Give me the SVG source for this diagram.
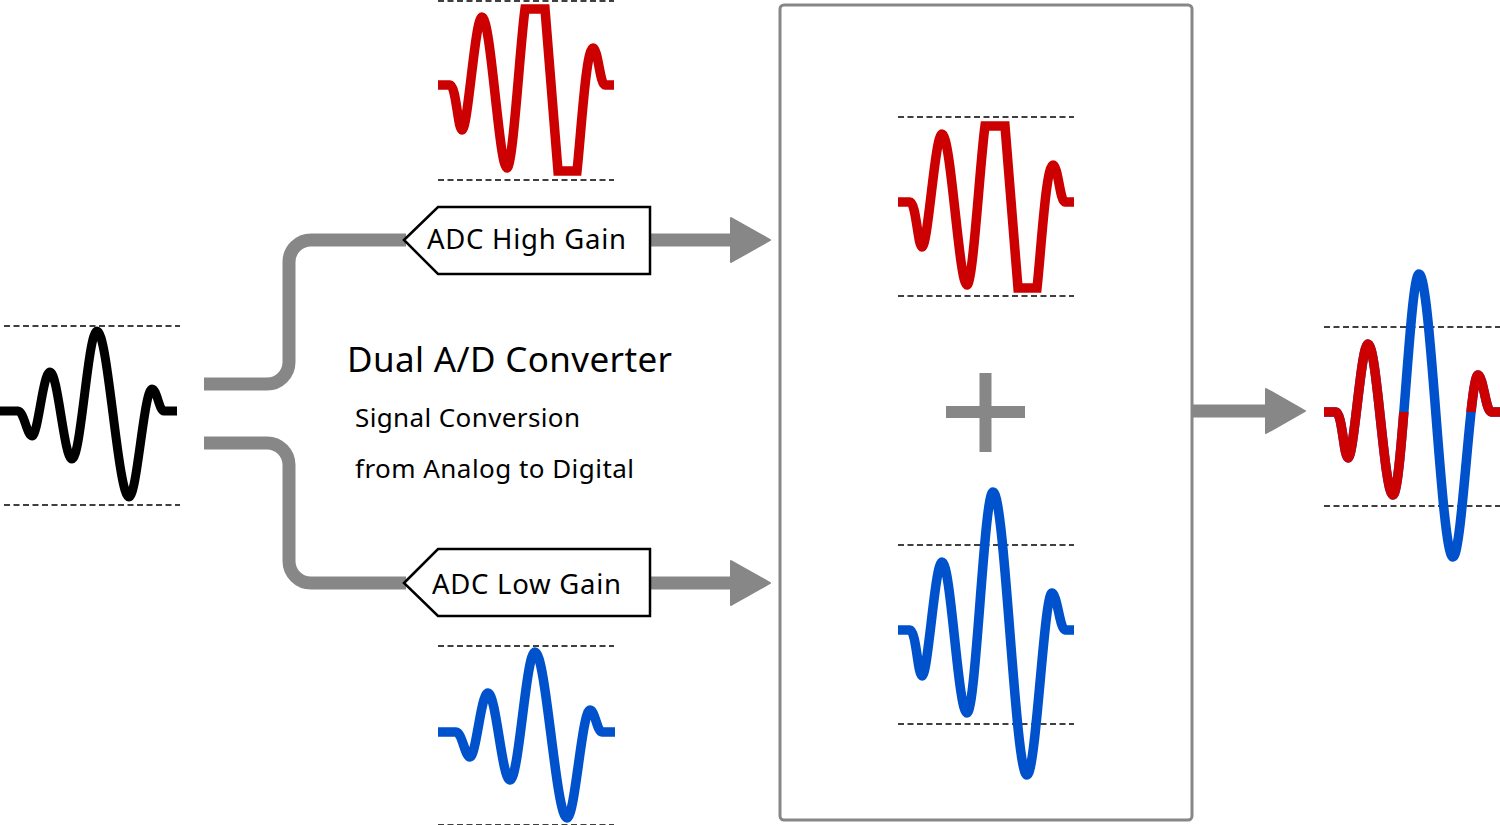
<svg xmlns="http://www.w3.org/2000/svg" width="1500" height="825" viewBox="0 0 1500 825">
<style>
.wave{fill:none;stroke-linejoin:miter;stroke-linecap:butt}
.dash{stroke:#000;stroke-width:1.5;stroke-dasharray:6 3.5;fill:none}
.conn{fill:none;stroke:#878787;stroke-width:13}
.head{fill:#878787;stroke:#878787;stroke-width:2;stroke-linejoin:round}
.lbl{fill:#fff;stroke:#000;stroke-width:2.5}
.t{font-family:"Noto Sans","Open Sans","Liberation Sans",sans-serif;fill:#000}
</style>
<defs>
<path id="wSmall" d="M0,0 H18 C24,0 27,25 32,25 C38,25 43,-39 50,-39 C58,-39 64,48 72,48 C81,48 88,-80 97,-80 C108,-80 118,86 129,86 C137,86 144,-22 152,-22 C157,-22 159,0 164,0 H177"/>
<path id="wBig" d="M0,0 H12 C18,0 20,46 24,46 C30,46 37,-68 44,-68 C53,-68 60,83 69,83 C78,83 86,-138 95,-138 C107,-138 117,145 129,145 C138,145 146,-37 154,-37 C159,-37 162,0 167,0 H176"/>
<path id="wClip" d="M0,0 H12 C18,0 20,45 24,45 C30,45 37,-68 44,-68 C53,-68 61,83 69,83 C75,83 82,-40 87,-76 H107 L120,86 H139 C143,50 148,-37 155,-37 C160,-37 162,0 167,0 H176"/>
<g id="dashes"><path d="M0,-85 H176 M0,94 H176"/></g>
<clipPath id="redPart">
<path d="M1300,0 H1396 V412 H1430 V825 H1300 Z M1445,0 H1500 V825 H1479 V412 H1445 Z"/>
</clipPath>
</defs>

<g id="input-signal">
<use href="#dashes" class="dash" transform="translate(4,411)"/>
<use href="#wSmall" class="wave" stroke="#000" stroke-width="9" transform="translate(0,411)"/>
</g>

<g id="connectors">
<path class="conn" d="M204,384 H267 A22,22 0 0 0 289,362 V262 A22,22 0 0 1 311,240 H406"/>
<path class="conn" d="M204,443 H267 A22,22 0 0 1 289,465 V561 A22,22 0 0 0 311,583 H406"/>
<path class="conn" d="M648,240 H736"/>
<path class="head" d="M731,218 L770,240 L731,262 Z"/>
<path class="conn" d="M648,583 H736"/>
<path class="head" d="M731,561 L770,583 L731,605 Z"/>
<path class="conn" d="M1192,411 H1270"/>
<path class="head" d="M1266,389 L1305,411 L1266,433 Z"/>
</g>

<g id="adc-high">
<path class="lbl" d="M404,240 L438,207 H650 V274 H438 Z"/>
<text class="t" x="427" y="249" font-size="27.5" textLength="199">ADC High Gain</text>
</g>

<g id="adc-low">
<path class="lbl" d="M404,583 L438,549 H650 V616 H438 Z"/>
<text class="t" x="432" y="594" font-size="27.5" textLength="189">ADC Low Gain</text>
</g>

<g id="high-gain-signal">
<use href="#dashes" class="dash" transform="translate(438,86)"/>
<use href="#wClip" class="wave" stroke="#CC0000" stroke-width="9.5" transform="translate(438,85)"/>
</g>

<g id="low-gain-signal">
<use href="#dashes" class="dash" transform="translate(438,731)"/>
<use href="#wSmall" class="wave" stroke="#0052CC" stroke-width="9.5" transform="translate(438,732)"/>
</g>

<g id="title">
<text class="t" x="347" y="372" font-size="35" textLength="325">Dual A/D Converter</text>
<text class="t" x="355" y="427" font-size="26" textLength="225">Signal Conversion</text>
<text class="t" x="355" y="478" font-size="26" textLength="279">from Analog to Digital</text>
</g>

<g id="combiner">
<rect x="780" y="5" width="412" height="815" rx="4" fill="none" stroke="#878787" stroke-width="3"/>
<use href="#dashes" class="dash" transform="translate(898,202)"/>
<use href="#wClip" class="wave" stroke="#CC0000" stroke-width="9.5" transform="translate(898,202)"/>
<rect x="946" y="406" width="79" height="12" fill="#878787"/>
<rect x="979.5" y="373" width="12" height="79" fill="#878787"/>
<use href="#dashes" class="dash" transform="translate(898,630)"/>
<use href="#wBig" class="wave" stroke="#0052CC" stroke-width="9.5" transform="translate(898,630)"/>
</g>

<g id="output-signal">
<use href="#dashes" class="dash" transform="translate(1324,412)"/>
<use href="#wBig" class="wave" stroke="#0052CC" stroke-width="9.5" transform="translate(1324,412)"/>
<g clip-path="url(#redPart)">
<use href="#wBig" class="wave" stroke="#CC0000" stroke-width="9.5" transform="translate(1324,412)"/>
</g>
</g>
</svg>
